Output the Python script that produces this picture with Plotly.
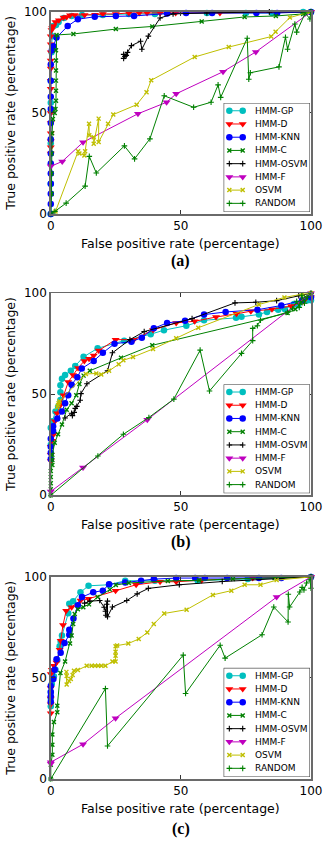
import plotly.graph_objects as go

# ---------------- data (percentages) ----------------
SERIES = ["HMM-GP", "HMM-D", "HMM-KNN", "HMM-C", "HMM-OSVM", "HMM-F", "OSVM", "RANDOM"]
PANEL_LABELS = ["(a)", "(b)", "(c)"]
TICKS = [0, 50, 100]

# Panel (a)
A_GP_FPR = [0, 0, 0, 0, 0, 0.3, 0.5, 1, 2, 3, 5, 8, 12, 20, 30, 40, 60, 75, 85, 97, 100]
A_GP_TPR = [0, 15, 35, 55, 66, 80, 88, 93, 93.5, 95, 97, 98, 98.5, 98.5, 99, 99, 99.5, 99.5, 99.5, 100, 100]
A_D_FPR = [0, 0, 0, 0, 0, 0, 0, 0, 0, 0, 0, 0, 0, 0.3, 0.5, 1, 1.8, 3.1, 4.9, 6.1, 7.4, 9.2, 13, 17, 20, 25, 30, 34, 37, 42, 45, 48, 65, 100]
A_D_TPR = [30, 33, 36, 40, 45, 50, 62, 66, 72, 76, 80, 84, 88, 91, 92, 93, 95, 95.9, 97.2, 97.5, 98.3, 98.5, 98.5, 98.6, 99, 99, 99.5, 99.5, 99.5, 99.5, 99.5, 99.5, 99.5, 100]
A_KNN_FPR = [0, 0, 0, 0, 0, 0, 0, 0, 0, 0, 0, 0, 0, 0.4, 1, 2.2, 6.5, 10.4, 16.9, 25, 32, 44.7, 52, 62, 79, 87, 100]
A_KNN_TPR = [0, 5, 10, 15, 20, 25, 30, 37, 45, 52, 58, 66, 74, 81, 83, 87.3, 93, 96.4, 97.6, 98, 98, 99.2, 99.5, 99.5, 99.5, 99.5, 100]
A_C_FPR = [0, 0.3, 0.3, 0.3, 0.5, 0.8, 1.5, 1.8, 2, 2, 2, 2, 2, 2, 2.2, 8.7, 25, 39, 58, 74.5, 86.5, 97, 100]
A_C_TPR = [0, 10, 20, 30, 40, 47, 50, 52, 56, 61, 66, 71, 76, 81, 88.6, 89.1, 91.5, 92.8, 95.3, 97.5, 98, 99, 100]
A_OS_FPR = [28, 28.5, 28, 29, 29.5, 31, 34.5, 35, 37.5, 42, 47, 60, 84, 100]
A_OS_TPR = [77, 78, 79, 78.5, 80, 83.3, 85.5, 81.5, 88, 97, 99, 99.5, 100, 100]
A_F_FPR = [0, 4.4, 12.4, 33.5, 44.5, 48.2, 66.2, 78.8, 100]
A_F_TPR = [23.6, 26, 35.5, 49.6, 55.3, 59.5, 70.4, 80.2, 100]
A_OSVM_FPR = [1.8, 10.5, 11, 12.9, 13.2, 14.7, 14.8, 16.5, 16.5, 18.4, 18.4, 22, 24, 33, 36.8, 38.6, 55.3, 68.4, 84.7, 86.4, 91.9, 99.6]
A_OSVM_TPR = [1.2, 31, 30, 29, 31, 44.7, 39, 38, 34.8, 47.2, 35.6, 44.7, 49.2, 54.1, 60.2, 66.2, 77.7, 82.6, 87.8, 90.2, 97.2, 100]
A_R_FPR = [0, 1.6, 5.9, 13.2, 14.8, 17.5, 28.3, 32.2, 38.1, 43.6, 54.9, 61.6, 64.3, 65.3, 75.5, 76.1, 76.7, 87.7, 90.2, 91, 93.8, 94.5, 97.8, 99.6, 100]
A_R_TPR = [0, 1.3, 5.4, 13.8, 28.5, 20.3, 33.7, 27.3, 37.2, 58.5, 52.8, 55.3, 63.9, 57.7, 87, 66.7, 69.9, 72.8, 87.5, 81.5, 94, 90, 99.5, 96.5, 100]

# Panel (b)
B_GP_FPR = [0, 0, 0.6, 1.8, 2.8, 3.7, 3.7, 3.7, 4.3, 5.5, 7.7, 9.4, 12.6, 18, 28.2, 38.4, 43.5, 52.1, 58.9, 71.2, 73.3, 80, 83.1, 87.4, 90, 93.5, 95, 98.4, 99.6, 100]
B_GP_TPR = [25, 33.4, 36.6, 41.4, 43.8, 47.1, 51, 54.4, 57.6, 59.5, 61.6, 64, 68.5, 72.7, 76.5, 79.7, 81.7, 83.9, 86.6, 87.8, 88.3, 89.5, 90.7, 91.8, 92, 94.7, 94, 96.4, 97, 96.5]
B_D_FPR = [0, 0, 0, 0.5, 1, 1.6, 2.4, 3.7, 4.9, 6.7, 8.6, 10.5, 12.9, 14.7, 16.5, 18.4, 24.9, 31.9, 39.3, 48.2, 55.3, 63.5, 71.4, 76.9, 85, 92.3, 97.2, 100]
B_D_TPR = [17, 20, 24, 27, 30, 36.6, 40.6, 44.7, 49.5, 56, 59.5, 63, 66.5, 67.6, 69.2, 71.6, 77, 77, 81.8, 85.3, 86.1, 88.2, 89.8, 91.1, 92, 93.6, 96, 98]
B_KNN_FPR = [0, 0, 0, 0, 0.9, 0.9, 2.5, 4.3, 5.5, 6.7, 8, 10.2, 11.9, 16.5, 20, 24.5, 31, 35, 39.6, 44.7, 51.6, 58.9, 67.2, 79.4, 88.6, 96.6, 100]
B_KNN_TPR = [18, 21, 24, 28, 31.8, 34.2, 38, 41.4, 45.5, 49.5, 54.7, 58.4, 62.7, 66.5, 70.5, 75, 76, 78, 82.6, 85.3, 86.3, 89.4, 90.7, 91.8, 93.9, 96.5, 98]
B_C_FPR = [0, 0, 0, 0, 0, 0.6, 0.6, 0.6, 1.5, 2.8, 4.3, 6.1, 8, 9.8, 11, 12.6, 15, 27, 39, 91, 94, 96, 97, 98, 100]
B_C_TPR = [0, 3, 6, 9, 12, 15, 17.5, 20, 26, 30.2, 35, 42.3, 45.5, 49.5, 55, 59.2, 61.6, 68, 74.2, 90.2, 92, 95, 97, 98, 100]
B_OS_FPR = [5.5, 8, 8.3, 9, 9.4, 10, 11.3, 11.6, 13.9, 21.8, 23.7, 30.4, 35.9, 54.3, 70.8, 78.8, 86.8, 95.3, 100]
B_OS_TPR = [38.2, 40.6, 39.4, 41, 43, 44, 47, 50.3, 55.2, 61.6, 70.5, 77, 81, 87.4, 95.2, 95.5, 96.3, 98.7, 100]
B_F_FPR = [0, 12.4, 37.1, 100]
B_F_TPR = [1.9, 13.7, 37.4, 100]
B_OSVM_FPR = [2.5, 2.8, 3, 3.3, 13.5, 17.5, 19.4, 22.4, 26.1, 27.9, 31.6, 39.3, 48.2, 56.7, 80, 89.8, 96.6, 100]
B_OSVM_TPR = [43.5, 44.5, 45.5, 46.5, 60, 60.3, 59.7, 61.6, 64.8, 66.8, 68.4, 72.4, 77.7, 82.9, 94.4, 97.9, 99.5, 100]
B_R_FPR = [0, 18.1, 27.9, 37.7, 47.3, 57.4, 61, 73.3, 77.6, 77.6, 79.4, 80.6, 91, 92.9, 94.5, 95.5, 96.5, 97.5, 98.5, 100]
B_R_TPR = [0, 19.4, 30.2, 38.5, 47.6, 71.8, 51.6, 70.2, 76.5, 82.6, 83.9, 86.6, 90.6, 92.3, 96, 93, 99, 95, 98, 100]

# Panel (c)
C_GP_FPR = [0, 0, 0, 0.4, 1.2, 1.8, 2.5, 3.4, 3.8, 4.3, 6.7, 7.1, 8.6, 11.4, 14.5, 22.4, 28.6, 40, 56.5, 75.7, 100]
C_GP_TPR = [36, 40, 43, 47, 50.8, 54, 58.9, 65.7, 68, 71, 82, 86.7, 88, 92.4, 95.6, 96.1, 98.1, 98.1, 98.1, 99, 100]
C_D_FPR = [0, 0, 0, 0, 0, 0.4, 1.2, 2.2, 3.4, 3.8, 4.7, 5.9, 8, 11.4, 14.5, 24.9, 32.8, 42, 48.2, 58, 77.6, 100]
C_D_TPR = [32.5, 37, 39.8, 45, 52, 54, 56, 57.6, 64, 68.4, 76.2, 83.2, 85, 88.3, 89.2, 93.2, 96.1, 97.6, 97.6, 98.4, 99.4, 100]
C_KNN_FPR = [0, 0, 0, 0, 1, 1.5, 2.2, 3.8, 5.3, 7.1, 7.1, 8.7, 10.4, 12, 16.3, 20, 22.4, 28.6, 34.7, 39.6, 48.2, 55.5, 59.2, 67.8, 80, 88.6, 100]
C_KNN_TPR = [38.2, 41, 43, 46, 49.5, 54, 59.2, 62.5, 67.3, 71.4, 73.8, 79.4, 86, 90, 92.4, 93.2, 96.4, 97.2, 98.1, 98.9, 99.4, 99.4, 99.4, 99.5, 99.5, 99.5, 100]
C_C_FPR = [0, 0, 0.6, 0.6, 0.6, 1.2, 2.5, 2.5, 3.7, 5.5, 7.4, 8, 8.6, 9.2, 10.4, 12.5, 14.7, 18, 22.7, 25, 30, 45, 57, 70, 86, 100]
C_C_TPR = [0, 7, 12, 17, 22, 28.2, 33, 36.2, 52.4, 58.1, 67, 71, 76.7, 81.6, 84, 85, 86.4, 90, 93.7, 96, 97, 98, 98.3, 99, 99.5, 100]
C_OS_FPR = [13, 15, 18.8, 20.5, 21, 21.2, 21.5, 21.8, 21.8, 23.7, 29.2, 33.2, 37.5, 49.4, 65.9, 100]
C_OS_TPR = [87, 88, 88.3, 85, 83, 81, 86.5, 88, 80.3, 85.1, 88.3, 91.6, 94.3, 96.1, 97.7, 100]
C_F_FPR = [0, 0, 12.4, 24.9, 86.8, 100]
C_F_TPR = [7.5, 8.3, 17.2, 30.1, 90, 100]
C_OSVM_FPR = [6, 6.1, 6.1, 7, 7.7, 8.4, 8.9, 10.4, 13.8, 15.7, 17, 18.2, 19.4, 21, 23.7, 24.9, 24.9, 24.9, 24.9, 25.5, 29.8, 33.8, 37.1, 39.6, 43.6, 52.2, 62.3, 69.4, 74.5, 80.6, 86.8, 100]
C_OSVM_TPR = [53, 51, 46.7, 48.5, 49.5, 51.5, 53.6, 53.9, 56, 56, 56, 56, 56, 56, 58.1, 58.1, 61, 63, 65.7, 66, 67, 69.3, 72.5, 76.7, 81.9, 83.8, 91.1, 93.2, 96.1, 96.1, 98.4, 100]
C_R_FPR = [0, 21, 21.8, 50.9, 51.8, 65.1, 67, 81.2, 85.7, 91.2, 91.3, 91.8, 95.7, 96.6, 97.3, 98.3, 99.6, 100, 100]
C_R_TPR = [0, 44.7, 16.3, 61.3, 42.3, 66.2, 59.8, 71.4, 85.1, 77.7, 91.4, 85.1, 92.5, 94.8, 93.5, 97, 98.6, 94.4, 100]

PANEL_DATA = [
    [(A_GP_FPR, A_GP_TPR), (A_D_FPR, A_D_TPR), (A_KNN_FPR, A_KNN_TPR), (A_C_FPR, A_C_TPR),
     (A_OS_FPR, A_OS_TPR), (A_F_FPR, A_F_TPR), (A_OSVM_FPR, A_OSVM_TPR), (A_R_FPR, A_R_TPR)],
    [(B_GP_FPR, B_GP_TPR), (B_D_FPR, B_D_TPR), (B_KNN_FPR, B_KNN_TPR), (B_C_FPR, B_C_TPR),
     (B_OS_FPR, B_OS_TPR), (B_F_FPR, B_F_TPR), (B_OSVM_FPR, B_OSVM_TPR), (B_R_FPR, B_R_TPR)],
    [(C_GP_FPR, C_GP_TPR), (C_D_FPR, C_D_TPR), (C_KNN_FPR, C_KNN_TPR), (C_C_FPR, C_C_TPR),
     (C_OS_FPR, C_OS_TPR), (C_F_FPR, C_F_TPR), (C_OSVM_FPR, C_OSVM_TPR), (C_R_FPR, C_R_TPR)],
]

# ---------------- styles ----------------
STYLE = {
    "HMM-GP":   dict(color="#00bfbf", symbol="circle", size=6.5, mlw=0),
    "HMM-D":    dict(color="#ff0000", symbol="triangle-down", size=7, mlw=0),
    "HMM-KNN":  dict(color="#0000ff", symbol="circle", size=6.5, mlw=0),
    "HMM-C":    dict(color="#008000", symbol="x-thin", size=4, mlw=1.4),
    "HMM-OSVM": dict(color="#000000", symbol="cross-thin", size=4, mlw=1.1),
    "HMM-F":    dict(color="#bf00bf", symbol="triangle-down", size=7, mlw=0),
    "OSVM":     dict(color="#bfbf00", symbol="x-thin", size=4, mlw=1.4),
    "RANDOM":   dict(color="#008000", symbol="cross-thin", size=4, mlw=1.1),
}

W, H = 332, 845
PLOT_L, PLOT_R = 49, 321.5
PANELS = [(5, 210.5), (291, 496.5), (579.5, 785)]   # top, bottom in px
LABEL_OFFSETS = [47.5, 48, 51]
LEG_L, LEG_R = 230, 320.5
LEG_H = 111
FONT = "DejaVu Sans"


def xp(px):
    return px / W


def yp(py):
    return 1 - py / H


fig = go.Figure()
layout = dict(
    width=W, height=H, margin=dict(l=0, r=0, t=0, b=0),
    paper_bgcolor="white", plot_bgcolor="rgba(0,0,0,0)",
    showlegend=False, font=dict(family=FONT, color="black"),
)
annotations = []

for i, (top, bottom) in enumerate(PANELS):
    sfx = "" if i == 0 else str(i + 1)
    xa, ya = "x" + sfx, "y" + sfx
    axis_common = dict(
        range=[0, 100], tickvals=TICKS, ticktext=[str(t) for t in TICKS],
        ticks="inside", ticklen=4, tickwidth=1, tickcolor="#333",
        showline=True, linecolor="#6a6a6a", linewidth=1.6, mirror="ticks",
        showgrid=False, zeroline=False, ticklabeloverflow="allow",
        tickfont=dict(family=FONT, size=12, color="black"),
    )
    layout["xaxis" + sfx] = dict(axis_common, domain=[xp(PLOT_L), xp(PLOT_R)], anchor=ya)
    layout["yaxis" + sfx] = dict(axis_common, domain=[yp(bottom), yp(top)], anchor=xa)

    for name, (fpr, tpr) in zip(SERIES, PANEL_DATA[i]):
        st = STYLE[name]
        fig.add_trace(go.Scatter(
            x=fpr, y=tpr, mode="lines+markers", name=name, xaxis=xa, yaxis=ya,
            line=dict(color=st["color"], width=1),
            marker=dict(symbol=st["symbol"], size=st["size"], color=st["color"],
                        line=dict(width=st["mlw"], color=st["color"])),
            cliponaxis=False, hoverinfo="skip",
        ))

    # custom legend on an auxiliary axis pair
    k = i + 4
    lxa, lya = "x%d" % k, "y%d" % k
    lw = LEG_R - LEG_L
    layout["xaxis%d" % k] = dict(domain=[xp(LEG_L), xp(LEG_R)], range=[0, lw],
                                 visible=False, anchor=lya, fixedrange=True)
    layout["yaxis%d" % k] = dict(domain=[yp(bottom - 2), yp(bottom - 2 - LEG_H)],
                                 range=[LEG_H, 0], visible=False, anchor=lxa, fixedrange=True)
    fig.add_trace(go.Scatter(
        x=[0, lw, lw, 0, 0], y=[0, 0, LEG_H, LEG_H, 0], mode="lines", fill="toself",
        fillcolor="white", line=dict(color="#444", width=1.2), xaxis=lxa, yaxis=lya,
        hoverinfo="skip", showlegend=False,
    ))
    for j, name in enumerate(SERIES):
        st = STYLE[name]
        yy = 8 + 13.45 * j
        fig.add_trace(go.Scatter(
            x=[6, 20], y=[yy, yy], mode="lines+markers", xaxis=lxa, yaxis=lya,
            line=dict(color=st["color"], width=1),
            marker=dict(symbol=st["symbol"], size=st["size"], color=st["color"],
                        line=dict(width=st["mlw"], color=st["color"])),
            cliponaxis=False, hoverinfo="skip", showlegend=False,
        ))
        annotations.append(dict(x=31, y=yy, xref=lxa, yref=lya, text=name, showarrow=False,
                                xanchor="left", yanchor="middle",
                                font=dict(family=FONT, size=9, color="black")))

    cx = (PLOT_L + PLOT_R) / 2
    annotations.append(dict(x=xp(cx), y=yp(bottom + 30), xref="paper", yref="paper",
                            text="False positive rate (percentage)", showarrow=False,
                            xanchor="center", yanchor="middle",
                            font=dict(family=FONT, size=12.5, color="black")))
    annotations.append(dict(x=xp(7), y=yp((top + bottom) / 2), xref="paper", yref="paper",
                            text="True positive rate (percentage)", showarrow=False,
                            textangle=-90, xanchor="center", yanchor="middle",
                            font=dict(family=FONT, size=12.5, color="black")))
    annotations.append(dict(x=xp(cx), y=yp(bottom + LABEL_OFFSETS[i]), xref="paper", yref="paper",
                            text="<b>%s</b>" % PANEL_LABELS[i], showarrow=False,
                            xanchor="center", yanchor="middle",
                            font=dict(family="Liberation Serif", size=16, color="black")))

layout["annotations"] = annotations
fig.update_layout(**layout)
fig.write_html(
    "out.html",
    config={"displayModeBar": False, "staticPlot": True},
    post_script=("document.documentElement.style.overflow='hidden';"
                 "document.body.style.margin='0';document.body.style.overflow='hidden';"),
)
